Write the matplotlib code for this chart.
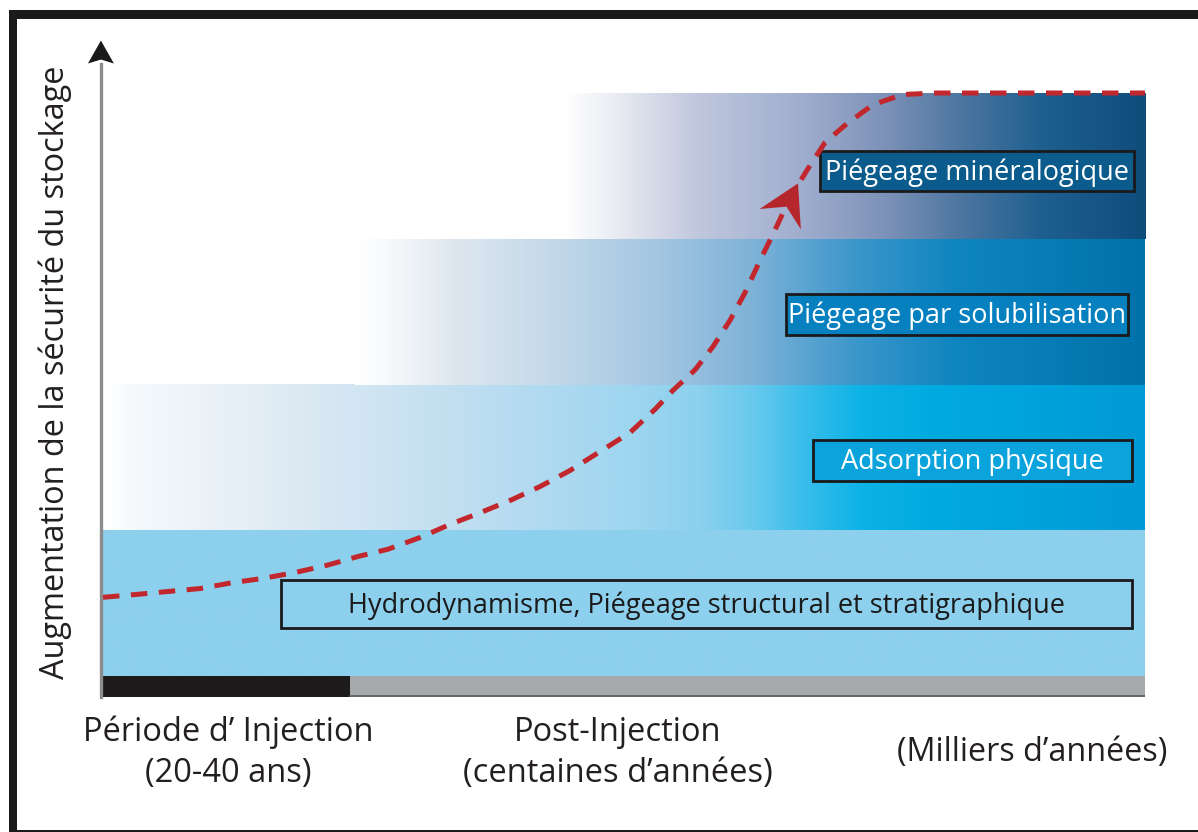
import numpy as np
import matplotlib
matplotlib.use("Agg")
import matplotlib.pyplot as plt
from matplotlib.colors import LinearSegmentedColormap
from matplotlib.patches import Rectangle, Polygon
from matplotlib.transforms import IdentityTransform

plt.rcParams['font.family'] = ['Open Sans', 'DejaVu Sans']

# ---------------- data ----------------
band_labels = ["Hydrodynamisme, Piégeage structural et stratigraphique",
               "Adsorption physique",
               "Piégeage par solubilisation",
               "Piégeage minéralogique"]
band_bottom = [0, 1, 2, 3]
band_top = [1, 2, 3, 4]
band_start = [0.0, 0.0, 24.2, 44.3]          # where the fade-in begins (time axis, 0-100)
band_stops = [
    [(0.0, "#8dd0ed"), (1.0, "#8dd0ed")],
    [(0.0, "#ffffff"), (0.03, "#f5f9fc"), (0.19, "#dce9f3"), (0.38, "#b9dcf0"),
     (0.50, "#a0d6f0"), (0.57, "#8dd1ee"), (0.62, "#6ccaed"), (0.68, "#33bcea"),
     (0.73, "#0cb2e6"), (0.80, "#00aae0"), (1.0, "#009ad6")],
    [(0.0, "#ffffff"), (0.06, "#f2f5f8"), (0.12, "#dfe7ef"), (0.25, "#c3d9ea"),
     (0.37, "#a7c8e3"), (0.50, "#80b3d8"), (0.63, "#3d97cb"), (0.76, "#0f85c0"),
     (1.0, "#0072ab")],
    [(0.0, "#ffffff"), (0.10, "#e5e8f0"), (0.23, "#bfc7dd"), (0.41, "#9fadce"),
     (0.55, "#7d92b8"), (0.68, "#4d76a0"), (0.82, "#1f6090"), (1.0, "#0e4c7c")],
]
box_left = [17.1, 68.1, 65.5, 68.8]
box_right = [98.8, 98.8, 98.4, 98.9]
box_lo = [0.33, 1.34, 2.34, 3.33]
box_hi = [0.66, 1.62, 2.62, 3.60]
box_face = ["#8dd0ed", "#0aa3dc", "#0680bf", "#0b5b8c"]
box_text_color = ["#1a1a1a", "white", "white", "white"]

# security trajectory (time 0-100, level 0-4)
curve_t = [0, 3.26, 6.24, 9.31, 12.38, 15.36, 18.43, 21.50, 24.47, 27.35, 30.42,
           33.30, 36.18, 39.25, 41.94, 44.82, 47.70, 50.58, 52.98, 54.70, 56.81,
           58.54, 60.17, 61.61, 63.05, 64.49, 65.93, 67.56, 69.29, 71.40, 73.90,
           76.78, 80.04, 100.0]
curve_s = [0.54, 0.56, 0.58, 0.60, 0.64, 0.67, 0.71, 0.76, 0.82, 0.87, 0.95,
           1.04, 1.12, 1.21, 1.30, 1.41, 1.54, 1.67, 1.83, 1.96, 2.10,
           2.26, 2.44, 2.63, 2.85, 3.06, 3.28, 3.47, 3.66, 3.79, 3.92,
           3.99, 4.0, 4.0]
arrow_tip = (66.7, 3.38)

injection_end = 23.7
period_labels = ["Période d’ Injection\n(20-40 ans)",
                 "Post-Injection\n(centaines d’années)",
                 "(Milliers d’années)"]
ylabel = "Augmentation de la sécurité du stockage"

# ---------------- figure ----------------
W, H = 1198, 832
fig = plt.figure(figsize=(W / 100, H / 100), dpi=100)
fig.patch.set_facecolor("white")
ax = fig.add_axes([103 / W, (H - 697) / H, 1042 / W, 604 / H])
ax.set_xlim(0, 100)
ax.set_ylim(-0.144, 4.0)
ax.axis("off")

# bands
for i in range(4):
    cmap = LinearSegmentedColormap.from_list(f"b{i}", band_stops[i])
    grad = np.linspace(0, 1, 512).reshape(1, -1)
    ax.imshow(grad, cmap=cmap, aspect="auto", interpolation="bilinear",
              extent=(band_start[i], 100, band_bottom[i], band_top[i]), zorder=1)

# time bar
ax.add_patch(Rectangle((0, -0.144), injection_end, 0.144, facecolor="#1c1a1b",
                       edgecolor="none", zorder=2))
ax.add_patch(Rectangle((injection_end, -0.144), 100 - injection_end, 0.144,
                       facecolor="#a6a8ab", edgecolor="none", zorder=2))
ax.plot([injection_end, 100], [-0.140, -0.140], color="#58595b", lw=1.2, zorder=2)

# label boxes
for i in range(4):
    ax.add_patch(Rectangle((box_left[i], box_lo[i]), box_right[i] - box_left[i],
                           box_hi[i] - box_lo[i], facecolor=box_face[i],
                           edgecolor="#1a1a1a", lw=2.0, zorder=3))
    ax.text((box_left[i] + box_right[i]) / 2, (box_lo[i] + box_hi[i]) / 2 - 0.01,
            band_labels[i], ha="center", va="center", color=box_text_color[i],
            fontsize=19.5, zorder=4)

# vertical axis arrow
ax.plot([-0.2, -0.2], [-0.144, 4.2], color="#8a8c8e", lw=2.4, clip_on=False, zorder=2)
tipd = ax.transData.transform((-0.2, 4.36))
axis_head = np.array([tipd, tipd + [-13, -23], tipd + [0, -19], tipd + [13, -23]])
fig.patches.append(Polygon(axis_head, closed=True, facecolor="#1a1a1a",
                           edgecolor="none", transform=IdentityTransform(), figure=fig))

# dashed trajectory
ax.plot(curve_t, curve_s, color="#c1272d", lw=3.6, dashes=(3.3, 2.3),
        solid_capstyle="butt", dash_capstyle="butt", clip_on=False, zorder=5)

# arrow head on the trajectory
tip = ax.transData.transform(arrow_tip)
prev = ax.transData.transform((64.9, 3.12))
u = (tip - prev) / np.linalg.norm(tip - prev)
n = np.array([-u[1], u[0]])
head = np.array([tip, tip - 40 * u + 23 * n, tip - 26 * u, tip - 40 * u - 23 * n])
fig.patches.append(Polygon(head, closed=True, facecolor="#b5272d", edgecolor="none",
                           transform=IdentityTransform(), figure=fig, zorder=6))

# axis labels
fig.text(55 / W, 1 - 372 / H, ylabel, rotation=90, ha="center", va="center",
         fontsize=23.4, color="#231f20")
fig.text(228 / W, 1 - 753 / H, period_labels[0], ha="center", va="center",
         fontsize=23.5, color="#231f20", linespacing=1.32)
fig.text(618 / W, 1 - 753 / H, period_labels[1], ha="center", va="center",
         fontsize=23.5, color="#231f20", linespacing=1.32)
fig.text(1032 / W, 1 - 752 / H, period_labels[2], ha="center", va="center",
         fontsize=23.3, color="#231f20")

# outer frame (top, left, bottom)
fig.patches.append(Rectangle((9 / W, 1 - 19 / H), 1 - 9 / W, 9 / H, facecolor="#1a1a1a",
                             edgecolor="none", transform=fig.transFigure, figure=fig))
fig.patches.append(Rectangle((9 / W, 0), 8 / W, 1 - 10 / H, facecolor="#1a1a1a",
                             edgecolor="none", transform=fig.transFigure, figure=fig))
fig.patches.append(Rectangle((9 / W, 0), 1 - 9 / W, 2.5 / H, facecolor="#1a1a1a",
                             edgecolor="none", transform=fig.transFigure, figure=fig))

fig.savefig("out.png", dpi=100)
